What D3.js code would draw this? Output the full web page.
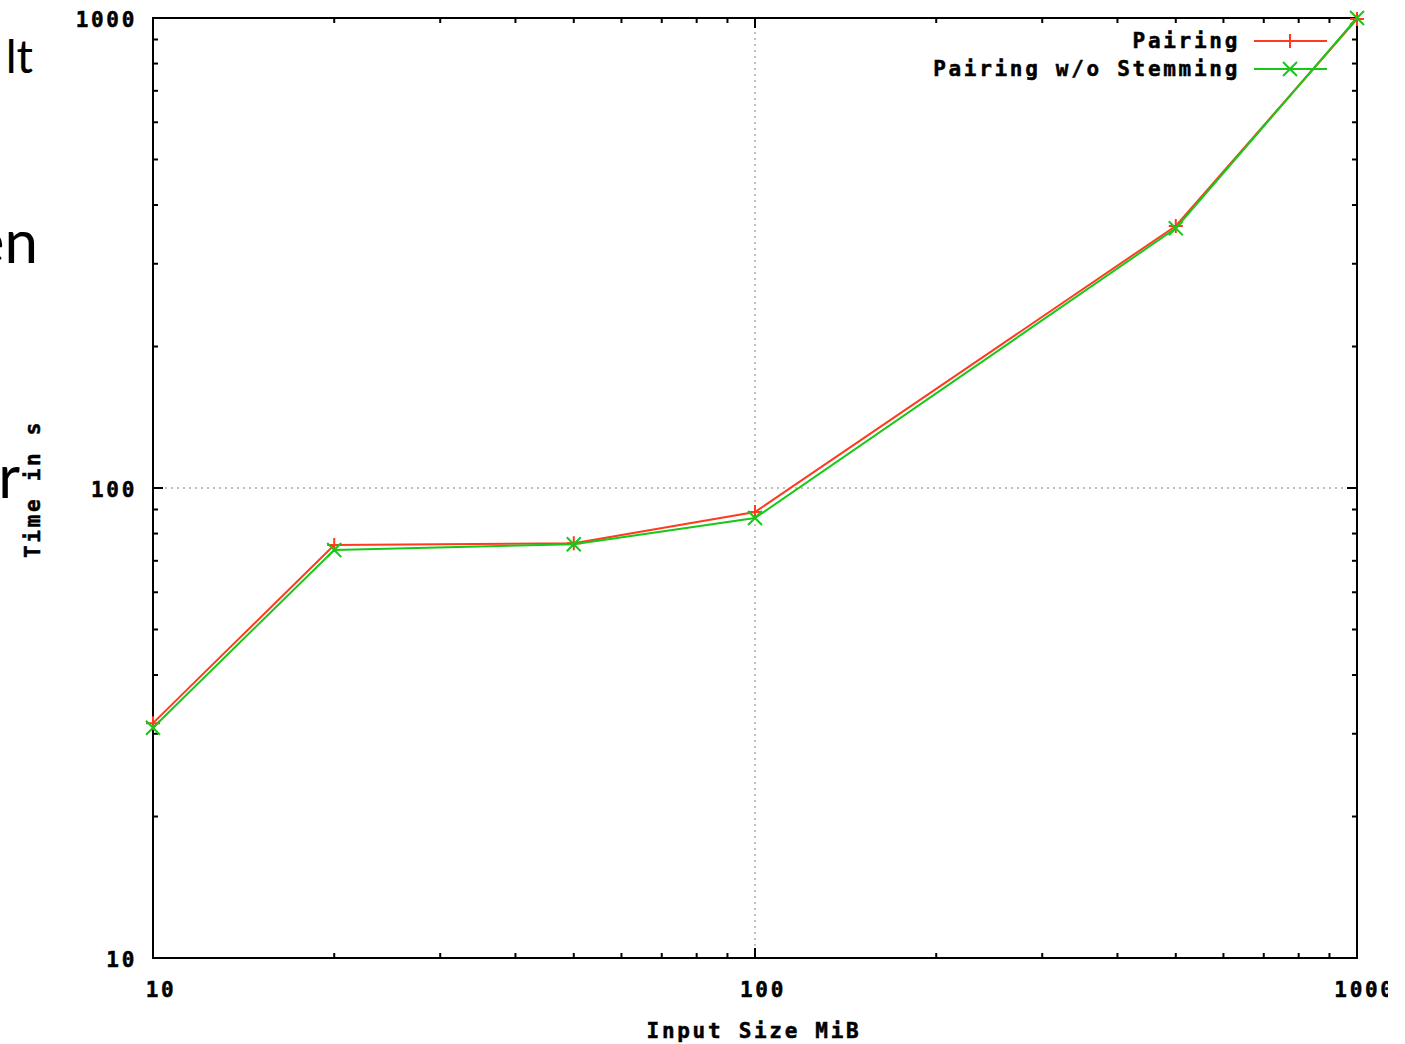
<!DOCTYPE html>
<html>
<head>
<meta charset="utf-8">
<script src="https://cdn.jsdelivr.net/npm/d3@7"></script>
<style>
  html, body { margin: 0; padding: 0; background: #fff; }
  svg { display: block; }
  .gp { font-family: "DejaVu Sans Mono", "Liberation Mono", monospace; font-weight: bold; font-size: 21px; letter-spacing: 2.7px; fill: #000; stroke: #000; stroke-width: 0.5px; }
  .slide { font-family: Lato, "Open Sans", sans-serif; fill: #000; }
</style>
</head>
<body>
<div id="chart"></div>
<script>
// data
const sizes = [10, 20, 50, 100, 500, 1000];           // Input Size MiB
const pairing = [31.6, 75.6, 76.3, 88.9, 361, 995];   // Time in s
const pairingNoStem = [30.9, 73.8, 75.9, 86.3, 357, 1000];
const seriesNames = ['Pairing', 'Pairing w/o Stemming'];
const seriesColors = ['#ff3a1e', '#18c818'];
const xTickLabels = ['10', '100', '1000'];
const yTickLabels = ['10', '100', '1000'];

// left-edge fragments of slide text that got cut off
const slideBits = [
  {text: 'lt', size: 46, x: 33, y: 73},
  {text: 'en', size: 60, x: 38, y: 263},
  {text: 'r', size: 60, x: 20, y: 498}
];

let width = 1388, height = 1044;
let margin = {top: 18, left: 153, right: 31, bottom: 86};

let svg = d3.select('#chart').append('svg')
    .attr('width', width)
    .attr('height', height);

let x = d3.scaleLog().domain([10, 1000]).range([margin.left, width - margin.right]);
let y = d3.scaleLog().domain([10, 1000]).range([height - margin.bottom, margin.top]);

let isMajor = d => Math.abs(Math.log10(d) - Math.round(Math.log10(d))) < 1e-9;

// slide text
svg.selectAll('.slide')
    .data(slideBits)
    .join('text')
    .classed('slide', true)
    .attr('x', d => d.x)
    .attr('y', d => d.y)
    .attr('text-anchor', 'end')
    .style('font-size', d => d.size + 'px')
    .text(d => d.text);

// grid - only the inner decade
let g = svg.append('g');
x.ticks().filter(isMajor).filter(d => d > 10 && d < 1000).forEach(d => {
    g.append('line')
        .attr('x1', x(d)).attr('x2', x(d))
        .attr('y1', y(10)).attr('y2', y(1000))
        .attr('stroke', '#aaa').attr('stroke-width', 1.5)
        .attr('stroke-dasharray', '2,4');
});
y.ticks().filter(isMajor).filter(d => d > 10 && d < 1000).forEach(d => {
    g.append('line')
        .attr('x1', x(10)).attr('x2', x(1000))
        .attr('y1', y(d)).attr('y2', y(d))
        .attr('stroke', '#aaa').attr('stroke-width', 1.5)
        .attr('stroke-dasharray', '2,4');
});

// ticks on all four sides (gnuplot mirror)
let ax = svg.append('g').attr('stroke', '#000').attr('stroke-width', 2);
x.ticks().forEach(d => {
    let len = isMajor(d) ? 10 : 5;
    ax.append('line').attr('x1', x(d)).attr('x2', x(d)).attr('y1', y(10)).attr('y2', y(10) - len);
    ax.append('line').attr('x1', x(d)).attr('x2', x(d)).attr('y1', y(1000)).attr('y2', y(1000) + len);
});
y.ticks().forEach(d => {
    let len = isMajor(d) ? 10 : 5;
    ax.append('line').attr('y1', y(d)).attr('y2', y(d)).attr('x1', x(10)).attr('x2', x(10) + len);
    ax.append('line').attr('y1', y(d)).attr('y2', y(d)).attr('x1', x(1000)).attr('x2', x(1000) - len);
});

// border
svg.append('rect')
    .attr('x', x(10)).attr('y', y(1000))
    .attr('width', x(1000) - x(10)).attr('height', y(10) - y(1000))
    .attr('fill', 'none').attr('stroke', '#000').attr('stroke-width', 2);

// tick labels
svg.selectAll('.xlab')
    .data(xTickLabels)
    .join('text')
    .attr('class', 'gp xlab')
    .attr('x', d => x(+d) + 8)
    .attr('y', y(10) + 39)
    .attr('text-anchor', 'middle')
    .text(d => d);

svg.selectAll('.ylab')
    .data(yTickLabels)
    .join('text')
    .attr('class', 'gp ylab')
    .attr('x', x(10) - 16)
    .attr('y', d => y(+d) + 9)
    .attr('text-anchor', 'end')
    .text(d => d);

// axis titles
svg.append('text')
    .attr('class', 'gp')
    .attr('x', 754)
    .attr('y', 1038)
    .attr('text-anchor', 'middle')
    .text('Input Size MiB');

svg.append('text')
    .attr('class', 'gp')
    .attr('transform', 'translate(40,489) rotate(-90)')
    .attr('text-anchor', 'middle')
    .text('Time in s');

// series
let line = d3.line()
    .x(d => x(d[0]))
    .y(d => y(d[1]));

function plus(sel, cx, cy, r) {
    sel.append('path').attr('d', `M${cx - r},${cy}H${cx + r}M${cx},${cy - r}V${cy + r}`);
}
function cross(sel, cx, cy, r) {
    sel.append('path').attr('d', `M${cx - r},${cy - r}L${cx + r},${cy + r}M${cx - r},${cy + r}L${cx + r},${cy - r}`);
}
let markers = [plus, cross];

[pairing, pairingNoStem].forEach((vals, i) => {
    let pts = sizes.map((s, j) => [s, vals[j]]);
    let sg = svg.append('g')
        .attr('stroke', seriesColors[i])
        .attr('fill', 'none')
        .attr('stroke-width', 2);
    sg.append('path').attr('d', line(pts));
    pts.forEach(p => markers[i](sg, x(p[0]), y(p[1]), 7));

    // legend entry
    let ly = 41 + i * 28;
    svg.append('text')
        .attr('class', 'gp')
        .attr('x', 1240)
        .attr('y', ly + 7)
        .attr('text-anchor', 'end')
        .text(seriesNames[i]);
    let lg = svg.append('g')
        .attr('stroke', seriesColors[i])
        .attr('fill', 'none')
        .attr('stroke-width', 2);
    lg.append('line').attr('x1', 1254).attr('x2', 1327).attr('y1', ly).attr('y2', ly);
    markers[i](lg, 1290, ly, 7);
});
</script>
</body>
</html>
